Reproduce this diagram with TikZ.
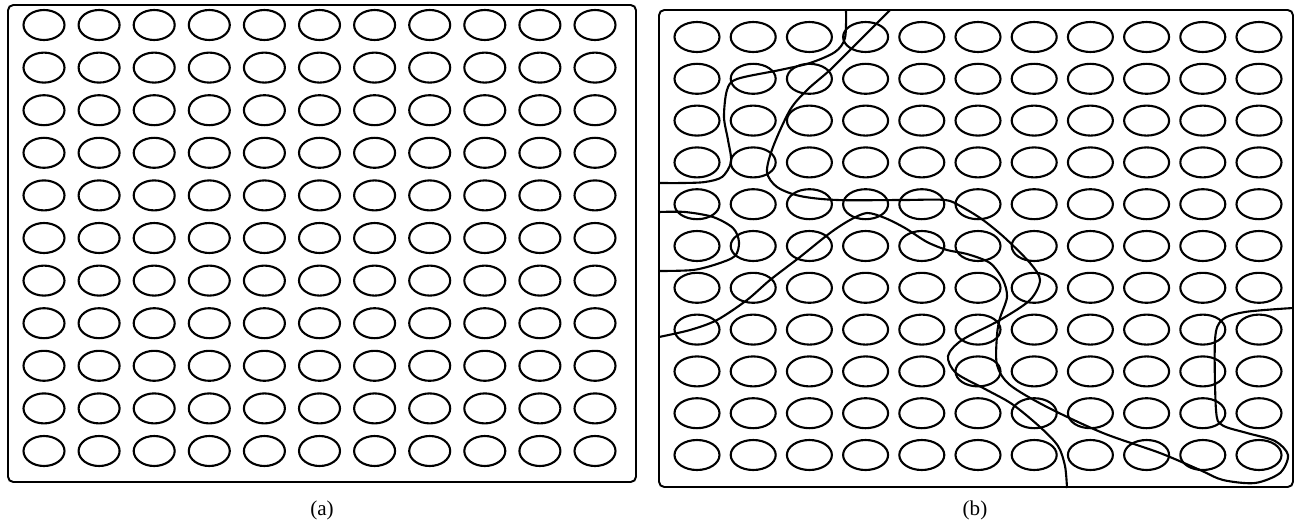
\documentclass[tikz,border=0pt]{standalone}
\usepackage{fontspec}
\setmainfont{Liberation Serif}
\usetikzlibrary{shapes.geometric}
\tikzset{
  cell/.style={draw, ellipse, line width=1.2pt, inner sep=0pt, minimum height=0.6cm},
  cella/.style={cell, minimum width=0.82cm},
  cellb/.style={cell, minimum width=0.9cm},
  border/.style={draw, line width=1.1pt, rounded corners=3pt},
  cut/.style={line width=1.2pt, line join=round},
  subcap/.style={font=\fontsize{12}{14}\selectfont}
}
\begin{document}
\begin{tikzpicture}[x=0.02cm, y=-0.02cm]
\useasboundingbox (0,0) rectangle (1295,531);
% panel (a)
\draw[border] (8,5) rectangle (636,482);
\foreach \r in {0,...,10}
  \foreach \c in {0,...,10}
    \node[cella] (a-\r-\c) at ({44+55.1*\c},{25+42.6*\r}) {};
\node[subcap] (capa) at (322,510) {(a)};
% panel (b)
\draw[border] (659,10) rectangle (1293,487);
\foreach \r in {0,...,10}
  \foreach \c in {0,...,10}
    \node[cellb] (b-\r-\c) at ({697+56.2*\c},{37+41.8*\r}) {};
% region boundaries
\draw[cut] plot[smooth, tension=0.5] coordinates {(846,10) (845,38) (835,52) (810,63) (780,70) (737,79) (727,90) (724,117) (728,140) (731,162) (722,177) (705,182) (683,183) (659,183)};
\draw[cut] plot[smooth, tension=0.5] coordinates {(659,212) (685,212) (713,217) (733,228) (739,242) (735,256) (717,264) (693,270) (659,271)};
\draw[cut] plot[smooth, tension=0.5] coordinates {(890,10) (853,47) (830,70) (807,90) (790,110) (773,147) (767,172) (777,187) (800,196) (837,200) (903,200) (945,200) (962,207) (983,220) (1005,238) (1030,263) (1040,280) (1030,300) (1000,320) (962,340) (948,356) (956,373) (985,389) (1012,404) (1040,427) (1058,446) (1065,466) (1067,488)};
\draw[cut] plot[smooth, tension=0.5] coordinates {(659,337) (690,330) (717,320) (747,300) (770,280) (800,257) (830,233) (850,220) (867,213) (885,218) (905,228) (927,242) (947,250) (967,254) (990,263) (1003,280) (1007,297) (1000,318) (997,335) (997,365) (1010,385) (1047,407) (1103,433) (1160,453) (1200,470) (1223,480) (1255,483) (1280,473) (1288,455) (1275,441) (1247,433) (1222,425) (1216,410) (1215,340) (1222,320) (1245,312) (1293,308)};
\node[subcap] (capb) at (975,510) {(b)};
\end{tikzpicture}
\end{document}
